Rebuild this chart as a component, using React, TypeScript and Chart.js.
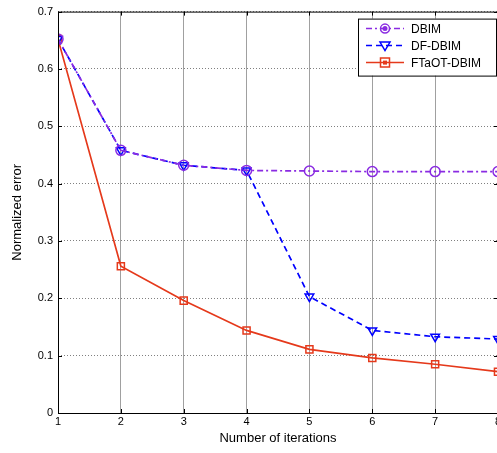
import React, { useEffect, useRef } from "react";
import { Chart, registerables } from "chart.js";

Chart.register(...registerables);

const iterations = [1, 2, 3, 4, 5, 6, 7, 8];
const dbim = [0.652, 0.458, 0.432, 0.423, 0.422, 0.421, 0.421, 0.421];
const dfDbim = [0.652, 0.458, 0.432, 0.423, 0.203, 0.144, 0.133, 0.129];
const ftaotDbim = [0.652, 0.256, 0.196, 0.144, 0.111, 0.096, 0.085, 0.072];
const seriesNames = ["DBIM", "DF-DBIM", "FTaOT-DBIM"];
const yTicks = [0, 0.1, 0.2, 0.3, 0.4, 0.5, 0.6, 0.7];

const PURPLE = "#8a2be2";
const BLUE = "#0000ff";
const RED = "#e5391b";
const FONT = "'Liberation Sans', Arial, Helvetica, sans-serif";

const styles = [
  { color: PURPLE, dash: [6, 3, 2, 3], marker: "circle" },
  { color: BLUE, dash: [6, 4], marker: "triangle" },
  { color: RED, dash: [], marker: "rect" },
];

function drawMarker(ctx: CanvasRenderingContext2D, kind: string, x: number, y: number, color: string, legend: boolean) {
  ctx.save();
  ctx.setLineDash([]);
  ctx.strokeStyle = color;
  ctx.lineWidth = 1.5;
  ctx.beginPath();
  if (kind === "circle") {
    ctx.arc(x, y, 4.5, 0, Math.PI * 2);
    ctx.stroke();
    if (legend) {
      ctx.fillStyle = color;
      ctx.beginPath();
      ctx.arc(x, y, 2.5, 0, Math.PI * 2);
      ctx.fill();
    }
  } else if (kind === "triangle") {
    ctx.moveTo(x - 5, y - 3.5);
    ctx.lineTo(x + 5, y - 3.5);
    ctx.lineTo(x, y + 5);
    ctx.closePath();
    ctx.stroke();
  } else {
    ctx.rect(x - 4.5, y - 4.5, 9, 9);
    ctx.stroke();
    if (legend) {
      ctx.fillStyle = color;
      ctx.fillRect(x - 2, y - 2, 4, 4);
    }
  }
  ctx.restore();
}

const framePlugin = {
  id: "frame",
  afterDraw(chart: any) {
    const { ctx, chartArea } = chart;
    const { left, right, top, bottom } = chartArea;
    const xs = chart.scales.x;
    const ys = chart.scales.y;
    ctx.save();
    ctx.setLineDash([]);
    ctx.strokeStyle = "#000";
    ctx.lineWidth = 1;
    ctx.strokeRect(left + 0.5, top + 0.5, right - left, bottom - top);
    ctx.beginPath();
    for (const v of iterations) {
      const px = Math.round(xs.getPixelForValue(v)) + 0.5;
      ctx.moveTo(px, bottom);
      ctx.lineTo(px, bottom - 4);
      ctx.moveTo(px, top);
      ctx.lineTo(px, top + 4);
    }
    for (const v of yTicks) {
      const py = Math.round(ys.getPixelForValue(v)) + 0.5;
      ctx.moveTo(left, py);
      ctx.lineTo(left + 4, py);
      ctx.moveTo(right, py);
      ctx.lineTo(right - 4, py);
    }
    ctx.stroke();

    // legend
    const lw = 138;
    const lh = 57;
    const lx = right - lw - 2;
    const ly = top + 7;
    ctx.fillStyle = "#fff";
    ctx.fillRect(lx, ly, lw, lh);
    ctx.strokeStyle = "#000";
    ctx.lineWidth = 1;
    ctx.strokeRect(lx + 0.5, ly + 0.5, lw, lh);
    ctx.font = `12px ${FONT}`;
    ctx.textBaseline = "middle";
    ctx.textAlign = "left";
    seriesNames.forEach((name, i) => {
      const st = styles[i];
      const yy = ly + 10 + i * 17;
      ctx.save();
      ctx.strokeStyle = st.color;
      ctx.lineWidth = 1.5;
      ctx.setLineDash(st.dash);
      ctx.beginPath();
      ctx.moveTo(lx + 8, yy);
      ctx.lineTo(lx + 46, yy);
      ctx.stroke();
      ctx.restore();
      drawMarker(ctx, st.marker, lx + 27, yy, st.color, true);
      ctx.fillStyle = "#000";
      ctx.fillText(name, lx + 53, yy + 1);
    });
    ctx.restore();
  },
};

export default function App() {
  const canvasRef = useRef<HTMLCanvasElement | null>(null);

  useEffect(() => {
    const canvas = canvasRef.current;
    if (!canvas) return;
    const mk = (data: number[], i: number) => ({
      label: seriesNames[i],
      data: iterations.map((x, j) => ({ x, y: data[j] })),
      borderColor: styles[i].color,
      borderWidth: 1.7,
      borderDash: styles[i].dash,
      pointStyle: styles[i].marker === "triangle" ? "triangle" : styles[i].marker === "rect" ? "rect" : "circle",
      pointRotation: styles[i].marker === "triangle" ? 180 : 0,
      pointRadius: 5,
      pointBorderWidth: 1.5,
      pointBorderColor: styles[i].color,
      pointBackgroundColor: "transparent",
      tension: 0,
      fill: false,
    });
    const chart = new Chart(canvas, {
      type: "line",
      data: {
        datasets: [mk(dbim, 0), mk(dfDbim, 1), mk(ftaotDbim, 2)],
      },
      options: {
        animation: false,
        responsive: true,
        maintainAspectRatio: false,
        layout: { padding: { top: 10, right: 7, left: 0, bottom: 0 } },
        plugins: { legend: { display: false }, tooltip: { enabled: false } },
        scales: {
          x: {
            type: "linear",
            min: 1,
            max: 8,
            afterFit: (s: any) => {
              s.height = 40;
            },
            ticks: {
              stepSize: 1,
              color: "#000",
              font: { size: 11, family: FONT },
              padding: 2,
              maxRotation: 0,
            },
            grid: { color: "#a0a0a0", lineWidth: 1, drawTicks: false },
            border: { display: false, dash: [] },
            title: {
              display: true,
              text: "Number of iterations",
              color: "#000",
              font: { size: 13, family: FONT },
              padding: { top: 2, bottom: 7 },
            },
          },
          y: {
            type: "linear",
            min: 0,
            max: 0.7,
            afterFit: (s: any) => {
              s.width = 58;
            },
            ticks: {
              stepSize: 0.1,
              color: "#000",
              font: { size: 11, family: FONT },
              padding: 5,
              callback: (v: any) => (Number(v) === 0 ? "0" : Number(v).toFixed(1)),
            },
            grid: { color: "#808080", lineWidth: 1, drawTicks: false },
            border: { display: false, dash: [1, 2] },
            title: {
              display: true,
              text: "Normalized error",
              color: "#000",
              font: { size: 13, family: FONT },
              padding: { top: 10, bottom: 0 },
            },
          },
        },
      },
      plugins: [framePlugin],
    } as any);
    return () => chart.destroy();
  }, []);

  return (
    <div
      style={{
        position: "fixed",
        left: 0,
        top: 0,
        width: 497,
        height: 453,
        overflow: "hidden",
        background: "#fff",
      }}
    >
      <div style={{ position: "absolute", left: 0, top: 0, width: 505, height: 453 }}>
        <canvas ref={canvasRef} />
      </div>
    </div>
  );
}
